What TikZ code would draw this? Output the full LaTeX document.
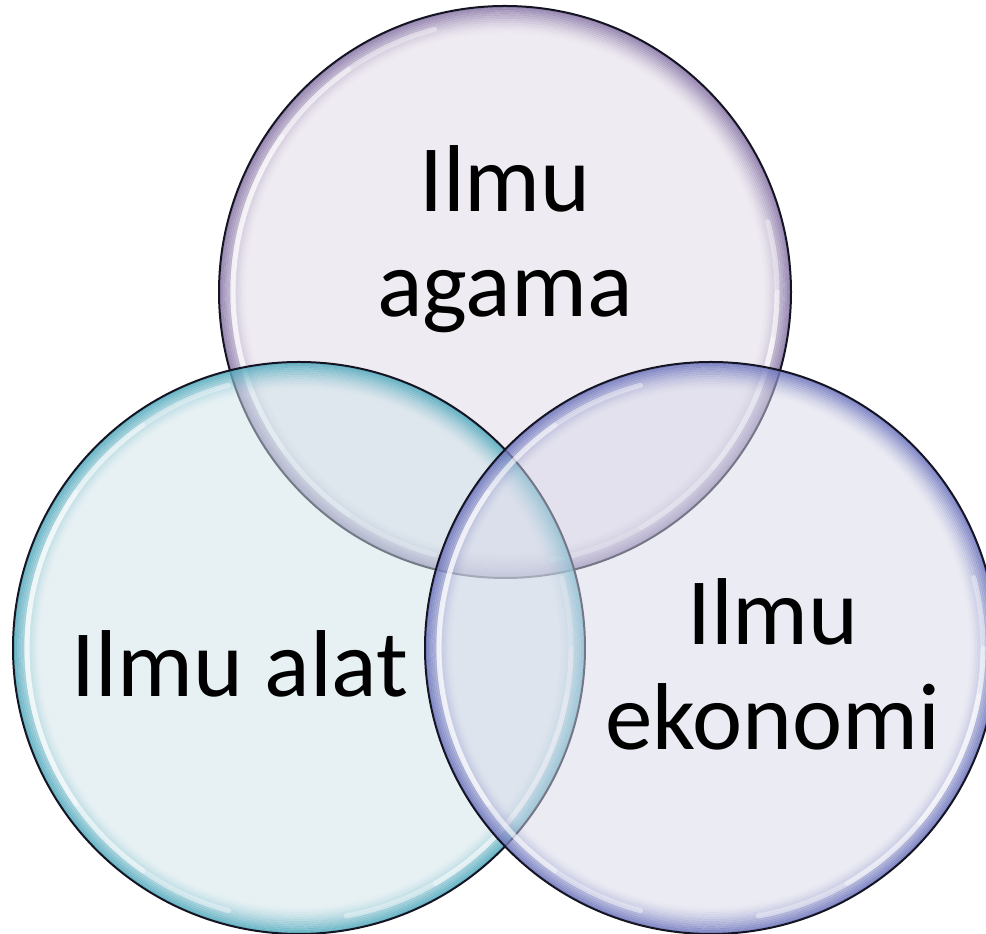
\documentclass[tikz,border=0pt]{standalone}
\usepackage{fontspec}
\setmainfont{Carlito}
\begin{document}
\begin{tikzpicture}[x=1pt,y=1pt]
\definecolor{topfill}{RGB}{225,217,231}
\definecolor{leftfill}{RGB}{209,229,235}
\definecolor{rightfill}{RGB}{215,217,233}
\definecolor{topedge}{RGB}{120,100,155}
\definecolor{leftedge}{RGB}{60,160,182}
\definecolor{rightedge}{RGB}{92,100,182}
\definecolor{outline}{RGB}{20,20,35}
\tikzset{
  label/.style={font=\fontsize{95}{105}\selectfont, text=black, align=center, anchor=base, inner sep=0pt},
  shine/.style={draw=white, line width=5pt, draw opacity=0.4, line cap=round},
  rim/.style={draw=outline, line width=2pt}
}
\useasboundingbox (0,0) rectangle (986,934);
\clip (0,0) rectangle (986,934);
\fill[white] (0,0) rectangle (986,934);
\coordinate (cT) at (505,642);
\coordinate (cL) at (299,286);
\coordinate (cR) at (711,286);
\foreach \c/\fc/\ec in {cT/topfill/topedge, cL/leftfill/leftedge, cR/rightfill/rightedge}{
  \fill[\fc, fill opacity=0.5] (\c) circle[radius=286];
  \foreach \k [evaluate=\k as \op using 0.7*(1-\k/15)^1.6, evaluate=\k as \rr using 285-1.8*\k] in {0,...,14}{
    \draw[draw=\ec, line width=2pt, draw opacity=\op] (\c) circle[radius=\rr];
  }
  \foreach \a/\b in {145/215, 125/235, 105/255, -10/-40, 0/-60, 15/-80}{
    \draw[shine] (\c) ++(\a:272) arc[start angle=\a, end angle=\b, radius=272];
  }
  \draw[rim] (\c) circle[radius=286];
}
\node[label] (agama) at (505,617) {Ilmu\\agama};
\node[label] (alat) at (240,237) {Ilmu alat};
\node[label] (ekonomi) at (773,184) {Ilmu\\ekonomi};
\end{tikzpicture}
\end{document}
